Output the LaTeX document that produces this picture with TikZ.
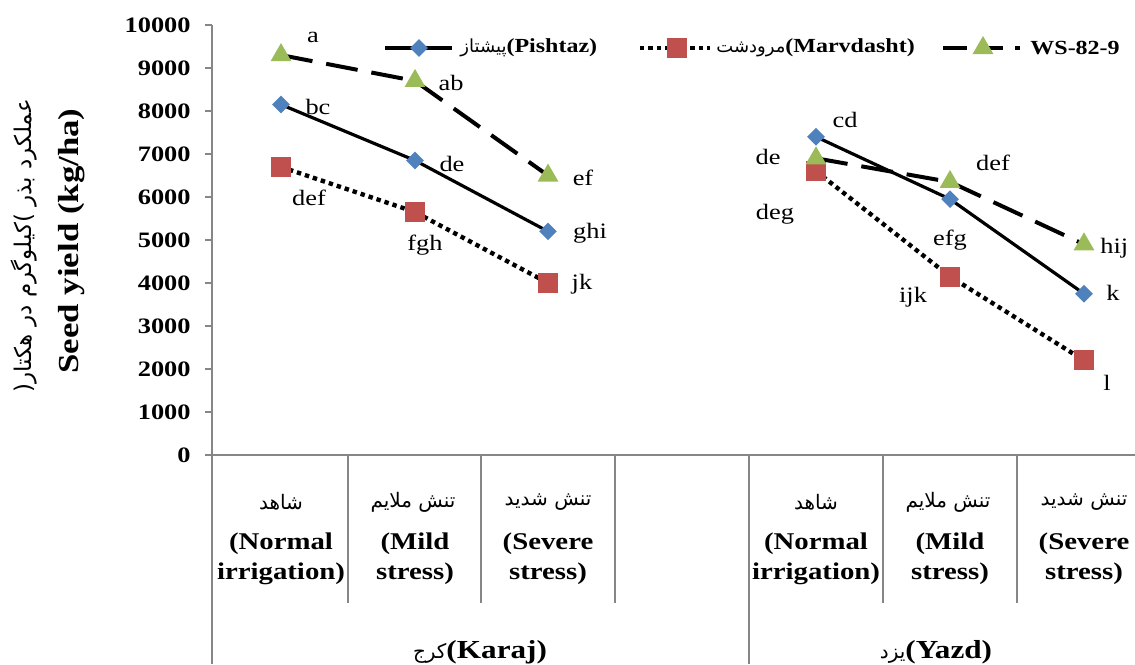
\documentclass[tikz,border=0pt]{standalone}
\usepackage{fontspec}
\setmainfont{Liberation Serif}[FakeStretch=1.2]
\newfontfamily\fafont[Script=Arabic]{DejaVu Sans}
\TeXXeTstate=1
\usetikzlibrary{shapes.geometric}
\definecolor{pishblue}{RGB}{79,129,189}
\definecolor{marvred}{RGB}{192,80,77}
\definecolor{wsgreen}{RGB}{155,187,89}
\definecolor{axisgray}{RGB}{134,134,134}
\tikzset{
  axis line/.style={draw=axisgray, line width=0.7pt},
  tick label/.style={
    anchor=east,
    inner sep=0pt,
    font=\bfseries\fontsize{11}{13}\selectfont,
  },
  pishtaz line/.style={line width=1.6pt},
  marvdasht line/.style={line width=2.2pt, dash pattern=on 2.2pt off 2pt},
  ws line/.style={line width=2pt, dash pattern=on 16pt off 7pt},
  pishtaz mark/.style={diamond, fill=pishblue, minimum size=9pt, inner sep=0pt},
  marvdasht mark/.style={rectangle, fill=marvred, minimum size=10pt, inner sep=0pt},
  ws mark/.style={regular polygon, regular polygon sides=3, fill=wsgreen,
    minimum size=12pt, inner sep=0pt},
  letter/.style={inner sep=0pt, font=\fontsize{11}{13}\selectfont},
  legend text/.style={anchor=west, inner sep=0pt, font=\fontsize{10}{12}\selectfont},
  cat fa/.style={inner sep=0pt, font=\fafont\fontsize{10}{12}\selectfont},
  cat en/.style={align=center, inner sep=0pt,
    font=\bfseries\fontsize{12}{15}\selectfont},
  group label/.style={inner sep=0pt, font=\fontsize{13}{15}\selectfont},
}

\begin{document}
\begin{tikzpicture}[x=0.5pt, y=-0.5pt]
  \useasboundingbox (0,0) rectangle (1135,664);

  % axes and category frame
  \draw[axis line] (212,25) -- (212,664);
  \draw[axis line] (212,455) -- (1135,455);
  \draw[axis line] (749,455) -- (749,664);
  \foreach \xs in {348,481,615,883,1017}
    \draw[axis line] (\xs,455) -- (\xs,603);
  \foreach \k in {0,...,10} {
    \draw[axis line] (205,455-43*\k) -- (212,455-43*\k);
    \pgfmathtruncatemacro{\val}{1000*\k}
    \node[tick label] (tick\k) at (191,455-43*\k) {\val};
  }

  % axis titles
  \node[rotate=90, font=\bfseries\fontsize{14.5}{16}\selectfont] (ytitle) at (72,241)
    {Seed yield (kg/ha)};
  \node[rotate=90, font=\fafont\fontsize{11.5}{13}\selectfont] (ytitlefa) at (24,246)
    {(\beginR کیلوگرم در هکتار\endR) \beginR عملکرد بذر\endR};

  % data points
  \begin{scope}[shift={(0,455)}, y=0.0215pt]
    \coordinate (pk1) at (281,8150);
    \coordinate (pk2) at (415,6850);
    \coordinate (pk3) at (548,5200);
    \coordinate (py1) at (816,7400);
    \coordinate (py2) at (950,5950);
    \coordinate (py3) at (1084,3750);
    \coordinate (mk1) at (281,6700);
    \coordinate (mk2) at (415,5650);
    \coordinate (mk3) at (548,4000);
    \coordinate (my1) at (816,6600);
    \coordinate (my2) at (950,4150);
    \coordinate (my3) at (1084,2200);
    \coordinate (wk1) at (281,9300);
    \coordinate (wk2) at (415,8700);
    \coordinate (wk3) at (548,6500);
    \coordinate (wy1) at (816,6900);
    \coordinate (wy2) at (950,6350);
    \coordinate (wy3) at (1084,4900);
  \end{scope}

  % Pishtaz
  \draw[pishtaz line] (pk1) -- (pk2) -- (pk3);
  \draw[pishtaz line] (py1) -- (py2) -- (py3);
  \node[pishtaz mark] (pk1m) at (pk1) {};
  \node[pishtaz mark] (pk2m) at (pk2) {};
  \node[pishtaz mark] (pk3m) at (pk3) {};
  \node[pishtaz mark] (py1m) at (py1) {};
  \node[pishtaz mark] (py2m) at (py2) {};
  \node[pishtaz mark] (py3m) at (py3) {};

  % Marvdasht
  \draw[marvdasht line] (mk1) -- (mk2) -- (mk3);
  \draw[marvdasht line] (my1) -- (my2) -- (my3);
  \node[marvdasht mark] (mk1m) at (mk1) {};
  \node[marvdasht mark] (mk2m) at (mk2) {};
  \node[marvdasht mark] (mk3m) at (mk3) {};
  \node[marvdasht mark] (my1m) at (my1) {};
  \node[marvdasht mark] (my2m) at (my2) {};
  \node[marvdasht mark] (my3m) at (my3) {};

  % WS-82-9
  \draw[ws line] (wk1) -- (wk2) -- (wk3);
  \draw[ws line] (wy1) -- (wy2) -- (wy3);
  \node[ws mark] (wk1m) at (wk1) {};
  \node[ws mark] (wk2m) at (wk2) {};
  \node[ws mark] (wk3m) at (wk3) {};
  \node[ws mark] (wy1m) at (wy1) {};
  \node[ws mark] (wy2m) at (wy2) {};
  \node[ws mark] (wy3m) at (wy3) {};

  % letters
  \node[letter] (lwk1) at (313,37) {a};
  \node[letter] (lwk2) at (451,83) {ab};
  \node[letter] (lwk3) at (583,178) {ef};
  \node[letter] (lpk1) at (318,107) {bc};
  \node[letter] (lpk2) at (452,164) {de};
  \node[letter] (lpk3) at (590,233) {ghi};
  \node[letter] (lmk1) at (309,198) {def};
  \node[letter] (lmk2) at (425,245) {fgh};
  \node[letter] (lmk3) at (582,284) {jk};
  \node[letter] (lpy1) at (845,120) {cd};
  \node[letter] (lwy1) at (768,157) {de};
  \node[letter] (lwy2) at (993,163) {def};
  \node[letter] (lmy1) at (775,214) {deg};
  \node[letter] (lpy2) at (950,240) {efg};
  \node[letter, anchor=west] (lwy3) at (1100,248) {hij};
  \node[letter] (lmy2) at (913,297) {ijk};
  \node[letter] (lpy3) at (1113,293) {k};
  \node[letter] (lmy3) at (1107,383) {l};

  % legend
  \coordinate (legp1) at (385,48);
  \coordinate (legp2) at (452,48);
  \draw[pishtaz line] (legp1) -- (legp2);
  \node[pishtaz mark] (legpm) at (419,48) {};
  \node[legend text] (legpt) at (460,48)
    {{\fafont\fontsize{9}{10}\selectfont\beginR پیشتاز\endR}\textbf{(Pishtaz)}};
  \coordinate (legm1) at (640,48);
  \coordinate (legm2) at (710,48);
  \draw[marvdasht line] (legm1) -- (legm2);
  \node[marvdasht mark] (legmm) at (677,48) {};
  \node[legend text] (legmt) at (716,48)
    {{\fafont\fontsize{9}{10}\selectfont\beginR مرودشت\endR}\textbf{(Marvdasht)}};
  \coordinate (legw1) at (943,48);
  \coordinate (legw2) at (1020,48);
  \draw[ws line, dash pattern=on 12pt off 6pt] (legw1) -- (legw2);
  \node[ws mark] (legwm) at (983,48) {};
  \node[legend text] (legwt) at (1030,48) {\textbf{WS-82-9}};

  % category labels
  \node[cat fa] (c1fa) at (281,502) {\beginR شاهد\endR};
  \node[cat fa] (c2fa) at (413,502) {\beginR تنش ملایم\endR};
  \node[cat fa] (c3fa) at (548,502) {\beginR تنش شدید\endR};
  \node[cat fa] (c4fa) at (816,502) {\beginR شاهد\endR};
  \node[cat fa] (c5fa) at (948,502) {\beginR تنش ملایم\endR};
  \node[cat fa] (c6fa) at (1084,502) {\beginR تنش شدید\endR};
  \node[cat en] (c1en) at (281,559) {(Normal\\irrigation)};
  \node[cat en] (c2en) at (415,559) {(Mild\\stress)};
  \node[cat en] (c3en) at (548,559) {(Severe\\stress)};
  \node[cat en] (c4en) at (816,559) {(Normal\\irrigation)};
  \node[cat en] (c5en) at (950,559) {(Mild\\stress)};
  \node[cat en] (c6en) at (1084,559) {(Severe\\stress)};

  % groups
  \node[group label] (karaj) at (480,652)
    {{\fafont\fontsize{10}{12}\selectfont\beginR کرج\endR}\textbf{(Karaj)}};
  \node[group label] (yazd) at (936,652)
    {{\fafont\fontsize{10}{12}\selectfont\beginR یزد\endR}\textbf{(Yazd)}};
\end{tikzpicture}
\end{document}
